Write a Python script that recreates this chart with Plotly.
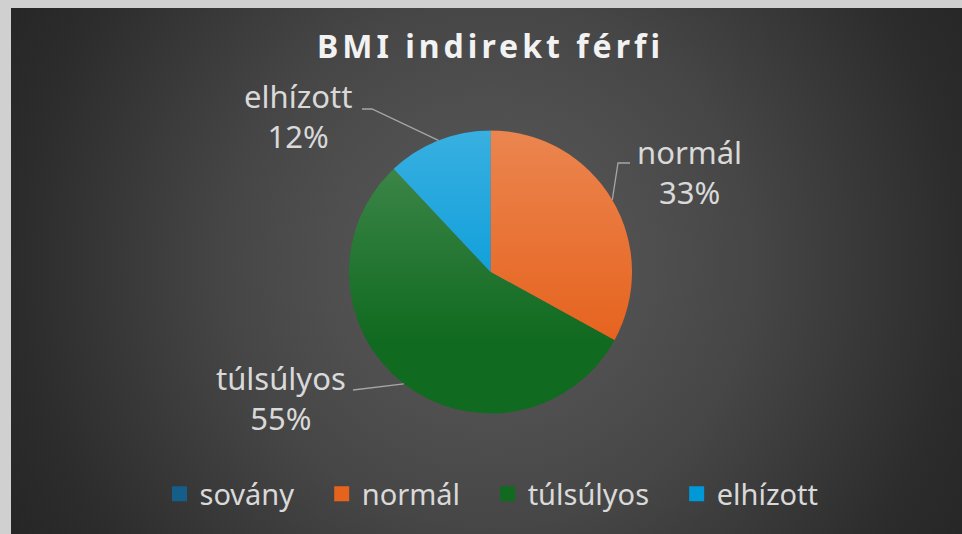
import base64
import math
import plotly.graph_objects as go

# ---------------- data ----------------
categories = ["sovány", "normál", "túlsúlyos", "elhízott"]
values = [0, 33, 55, 12]
colors = ["#155e8a", "#e6631e", "#106a1f", "#0099d8"]
title_text = "BMI indirekt férfi"

# ---------------- layout constants ----------------
W, H = 962, 534
PIE_CX, PIE_CY, PIE_R = 490.5, 272.0, 141.5
FRAME_X, FRAME_Y = 11, 8
TEXT_COLOR = "#d9d9d9"
FONT = "Noto Sans"

# label placement (pixel positions chosen as layout, per category)
label_layout = {
    "normál":   dict(x=689, y=172, elbow=(618, 163), end=(630, 163)),
    "túlsúlyos": dict(x=281, y=398, elbow=(353, 390), end=(353, 390)),
    "elhízott": dict(x=298, y=116, elbow=(372, 109), end=(362, 109)),
}


def px(x):
    return x / W


def py(y):
    return 1 - y / H


def b64svg(svg):
    return "data:image/svg+xml;base64," + base64.b64encode(svg.encode("utf-8")).decode()


# background radial gradient
fw, fh = W - FRAME_X, H - FRAME_Y
bg_svg = f'''<svg xmlns="http://www.w3.org/2000/svg" width="{fw}" height="{fh}" viewBox="0 0 {fw} {fh}">
<defs><radialGradient id="g" gradientUnits="userSpaceOnUse" cx="{PIE_CX-FRAME_X}" cy="{264-FRAME_Y}" r="550">
<stop offset="0" stop-color="#5a5a5a"/>
<stop offset="0.31" stop-color="#4e4e4e"/>
<stop offset="0.48" stop-color="#464646"/>
<stop offset="0.855" stop-color="#2c2c2c"/>
<stop offset="1" stop-color="#262626"/>
</radialGradient></defs>
<rect width="{fw}" height="{fh}" fill="url(#g)"/></svg>'''

# light sheen over the pie (style only)
d = 2 * PIE_R
sheen_svg = f'''<svg xmlns="http://www.w3.org/2000/svg" width="{d}" height="{d}" viewBox="0 0 {d} {d}">
<defs><linearGradient id="s" x1="0" y1="0" x2="0" y2="1">
<stop offset="0" stop-color="#ffffff" stop-opacity="0.22"/>
<stop offset="0.75" stop-color="#ffffff" stop-opacity="0"/>
</linearGradient></defs>
<circle cx="{PIE_R}" cy="{PIE_R}" r="{PIE_R}" fill="url(#s)"/></svg>'''

fig = go.Figure()
fig.add_trace(go.Pie(
    labels=categories,
    values=values,
    sort=False,
    direction="clockwise",
    rotation=0,
    marker=dict(colors=colors, line=dict(width=0)),
    textinfo="none",
    hoverinfo="label+percent",
    showlegend=False,
    domain=dict(x=[px(PIE_CX - PIE_R), px(PIE_CX + PIE_R)],
                y=[py(PIE_CY + PIE_R), py(PIE_CY - PIE_R)]),
))

# legend entries (same categories / colours, square keys)
for cat, col in zip(categories, colors):
    fig.add_trace(go.Scatter(
        x=[None], y=[None], mode="markers", name=cat + "\u00a0" * 3,
        marker=dict(symbol="square", size=15, color=col),
        showlegend=True, hoverinfo="skip",
    ))

total = sum(values)
annotations = []
shapes = []
cum = 0
for cat, v in zip(categories, values):
    start = cum
    cum += v
    if v <= 0 or cat not in label_layout:
        continue
    mid = (start + v / 2) / total * 2 * math.pi
    ex = PIE_CX + PIE_R * math.sin(mid)
    ey = PIE_CY - PIE_R * math.cos(mid)
    L = label_layout[cat]
    (bx, by), (cx, cy) = L["elbow"], L["end"]
    shapes.append(dict(
        type="path", xref="paper", yref="paper",
        path=f"M{px(ex)},{py(ey)} L{px(bx)},{py(by)} L{px(cx)},{py(cy)}",
        line=dict(color="#a6a6a6", width=1.3),
    ))
    pct = round(v / total * 100)
    annotations.append(dict(
        text=f"{cat}<br>{pct}%", x=px(L["x"]), y=py(L["y"]), xref="paper", yref="paper",
        xanchor="center", yanchor="middle", align="center", showarrow=False,
        font=dict(family=FONT, size=31, color=TEXT_COLOR),
    ))

annotations.append(dict(
    text=f'<b><span style="letter-spacing:4px">{title_text}</span></b>',
    x=px(490), y=py(46), xref="paper", yref="paper",
    xanchor="center", yanchor="middle", showarrow=False,
    font=dict(family=FONT, size=32, color="#f2f2f2"),
))

fig.update_layout(
    width=W, height=H,
    margin=dict(l=0, r=0, t=0, b=0),
    paper_bgcolor="#d0d0d0",
    plot_bgcolor="rgba(0,0,0,0)",
    font=dict(family=FONT, color=TEXT_COLOR),
    xaxis=dict(visible=False),
    yaxis=dict(visible=False),
    showlegend=True,
    legend=dict(
        orientation="h", x=px(503), y=py(494), xanchor="center", yanchor="middle",
        font=dict(family=FONT, size=29, color=TEXT_COLOR),
        bgcolor="rgba(0,0,0,0)", itemclick=False, itemdoubleclick=False,
    ),
    annotations=annotations,
    shapes=shapes,
    images=[
        dict(source=b64svg(bg_svg), xref="paper", yref="paper",
             x=px(FRAME_X), y=py(FRAME_Y), sizex=fw / W, sizey=fh / H,
             xanchor="left", yanchor="top", sizing="stretch", layer="below"),
        dict(source=b64svg(sheen_svg), xref="paper", yref="paper",
             x=px(PIE_CX - PIE_R), y=py(PIE_CY - PIE_R), sizex=d / W, sizey=d / H,
             xanchor="left", yanchor="top", sizing="stretch", layer="above"),
    ],
)

fig.write_html(
    "out.html",
    config={"displayModeBar": False},
    post_script="document.body.style.margin='0px';"
                "document.body.style.overflow='hidden';"
                "document.body.style.background='#d0d0d0';",
)
